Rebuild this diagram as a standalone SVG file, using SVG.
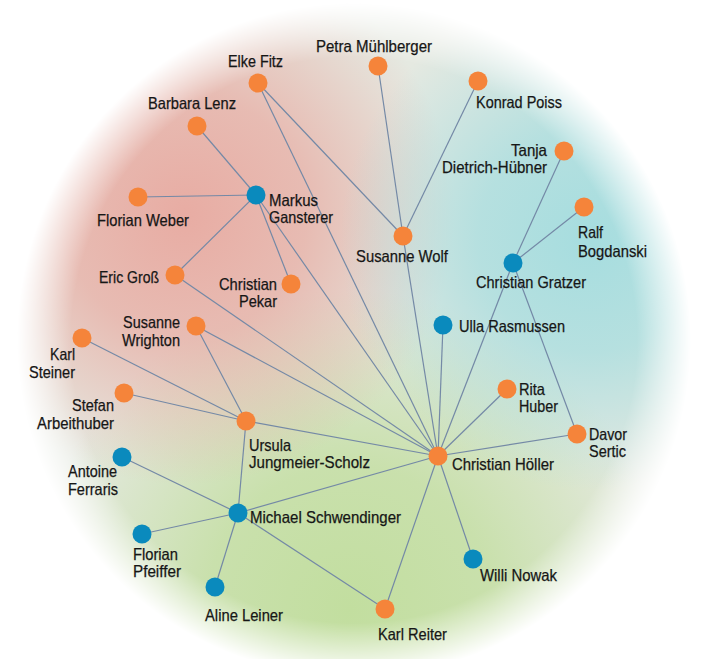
<svg xmlns="http://www.w3.org/2000/svg" width="706" height="659" viewBox="0 0 706 659">
<style>
.e{stroke:#7489a6;stroke-width:1.2;fill:none}
.o{fill:#f5843a}
.b{fill:#0a8abd}
text{font-family:"Liberation Sans",Arial,sans-serif;font-size:16.5px;fill:#161616;stroke:#161616;stroke-width:0.25}
</style>
<defs>
<radialGradient id="gRed" gradientUnits="userSpaceOnUse" cx="185" cy="215" r="270">
<stop offset="0" stop-color="#e8aca3" stop-opacity="1"/>
<stop offset="0.45" stop-color="#e8aca3" stop-opacity="0.75"/>
<stop offset="1" stop-color="#e8aca3" stop-opacity="0"/>
</radialGradient>
<radialGradient id="gTeal" gradientUnits="userSpaceOnUse" cx="590" cy="240" r="250">
<stop offset="0" stop-color="#a6dddf" stop-opacity="1"/>
<stop offset="0.45" stop-color="#a6dddf" stop-opacity="0.75"/>
<stop offset="1" stop-color="#a6dddf" stop-opacity="0"/>
</radialGradient>
<radialGradient id="gGreen" gradientUnits="userSpaceOnUse" cx="350" cy="610" r="320">
<stop offset="0" stop-color="#c2de9f" stop-opacity="1"/>
<stop offset="0.45" stop-color="#c2de9f" stop-opacity="0.8"/>
<stop offset="1" stop-color="#c2de9f" stop-opacity="0"/>
</radialGradient>
<radialGradient id="gFade" gradientUnits="userSpaceOnUse" cx="354" cy="340" r="337">
<stop offset="0.84" stop-color="#fff" stop-opacity="1"/>
<stop offset="1" stop-color="#fff" stop-opacity="0"/>
</radialGradient>
<mask id="m"><circle cx="354" cy="340" r="337" fill="url(#gFade)"/></mask>
</defs>
<rect width="706" height="659" fill="#ffffff"/>
<g id="background" mask="url(#m)">
<circle cx="354" cy="340" r="337" fill="#e5e9e1"/>
<circle cx="354" cy="340" r="337" fill="url(#gGreen)"/>
<circle cx="354" cy="340" r="337" fill="url(#gRed)"/>
<circle cx="354" cy="340" r="337" fill="url(#gTeal)"/>
</g>
<g id="connectors">
<line class="e" x1="197" y1="126" x2="256" y2="195"/>
<line class="e" x1="138" y1="197" x2="256" y2="195"/>
<line class="e" x1="175" y1="275" x2="256" y2="195"/>
<line class="e" x1="291" y1="284" x2="256" y2="195"/>
<line class="e" x1="256" y1="195" x2="438" y2="456"/>
<line class="e" x1="258" y1="83" x2="403" y2="236"/>
<line class="e" x1="258" y1="83" x2="438" y2="456"/>
<line class="e" x1="378" y1="66" x2="403" y2="236"/>
<line class="e" x1="478" y1="81" x2="403" y2="236"/>
<line class="e" x1="403" y1="236" x2="438" y2="456"/>
<line class="e" x1="564" y1="151" x2="513" y2="263"/>
<line class="e" x1="584" y1="207" x2="513" y2="263"/>
<line class="e" x1="513" y1="263" x2="438" y2="456"/>
<line class="e" x1="513" y1="263" x2="577" y2="434"/>
<line class="e" x1="443" y1="325" x2="438" y2="456"/>
<line class="e" x1="507" y1="389" x2="438" y2="456"/>
<line class="e" x1="577" y1="434" x2="438" y2="456"/>
<line class="e" x1="175" y1="275" x2="438" y2="456"/>
<line class="e" x1="196" y1="326" x2="438" y2="456"/>
<line class="e" x1="196" y1="326" x2="246" y2="421"/>
<line class="e" x1="82" y1="338" x2="246" y2="421"/>
<line class="e" x1="124" y1="393" x2="246" y2="421"/>
<line class="e" x1="246" y1="421" x2="438" y2="456"/>
<line class="e" x1="246" y1="421" x2="238" y2="513"/>
<line class="e" x1="122" y1="457" x2="238" y2="513"/>
<line class="e" x1="142" y1="534" x2="238" y2="513"/>
<line class="e" x1="215" y1="587" x2="238" y2="513"/>
<line class="e" x1="238" y1="513" x2="385" y2="609"/>
<line class="e" x1="238" y1="513" x2="438" y2="456"/>
<line class="e" x1="438" y1="456" x2="385" y2="609"/>
<line class="e" x1="438" y1="456" x2="473" y2="559"/>
</g>
<g id="elke"><circle class="o" cx="258" cy="83" r="9.5"/><text x="228" y="67" textLength="55" lengthAdjust="spacingAndGlyphs">Elke Fitz</text></g>
<g id="petra"><circle class="o" cx="378" cy="66" r="9.5"/><text x="316" y="52" textLength="116" lengthAdjust="spacingAndGlyphs">Petra Mühlberger</text></g>
<g id="konrad"><circle class="o" cx="478" cy="81" r="9.5"/><text x="476" y="108" textLength="86" lengthAdjust="spacingAndGlyphs">Konrad Poiss</text></g>
<g id="barbara"><circle class="o" cx="197" cy="126" r="9.5"/><text x="148" y="109" textLength="88" lengthAdjust="spacingAndGlyphs">Barbara Lenz</text></g>
<g id="tanja"><circle class="o" cx="564" cy="151" r="9.5"/><text x="511" y="156" textLength="36" lengthAdjust="spacingAndGlyphs">Tanja</text><text x="442" y="173" textLength="105" lengthAdjust="spacingAndGlyphs">Dietrich-Hübner</text></g>
<g id="florian-weber"><circle class="o" cx="138" cy="197" r="9.5"/><text x="97" y="226" textLength="92" lengthAdjust="spacingAndGlyphs">Florian Weber</text></g>
<g id="markus"><circle class="b" cx="256" cy="195" r="9.5"/><text x="269" y="206" textLength="49" lengthAdjust="spacingAndGlyphs">Markus</text><text x="269" y="223" textLength="64" lengthAdjust="spacingAndGlyphs">Gansterer</text></g>
<g id="ralf"><circle class="o" cx="584" cy="207" r="9.5"/><text x="578" y="238" textLength="25" lengthAdjust="spacingAndGlyphs">Ralf</text><text x="578" y="257" textLength="69" lengthAdjust="spacingAndGlyphs">Bogdanski</text></g>
<g id="susanne-wolf"><circle class="o" cx="403" cy="236" r="9.5"/><text x="356" y="262" textLength="92" lengthAdjust="spacingAndGlyphs">Susanne Wolf</text></g>
<g id="gratzer"><circle class="b" cx="513" cy="263" r="9.5"/><text x="476" y="288" textLength="110" lengthAdjust="spacingAndGlyphs">Christian Gratzer</text></g>
<g id="eric"><circle class="o" cx="175" cy="275" r="9.5"/><text x="99" y="283" textLength="60" lengthAdjust="spacingAndGlyphs">Eric Groß</text></g>
<g id="pekar"><circle class="o" cx="291" cy="284" r="9.5"/><text x="219" y="290" textLength="58" lengthAdjust="spacingAndGlyphs">Christian</text><text x="239" y="307" textLength="38" lengthAdjust="spacingAndGlyphs">Pekar</text></g>
<g id="wrighton"><circle class="o" cx="196" cy="326" r="9.5"/><text x="123" y="328" textLength="57" lengthAdjust="spacingAndGlyphs">Susanne</text><text x="122" y="346" textLength="58" lengthAdjust="spacingAndGlyphs">Wrighton</text></g>
<g id="ulla"><circle class="b" cx="443" cy="325" r="9.5"/><text x="459" y="332" textLength="106" lengthAdjust="spacingAndGlyphs">Ulla Rasmussen</text></g>
<g id="karl-steiner"><circle class="o" cx="82" cy="338" r="9.5"/><text x="50" y="360" textLength="25" lengthAdjust="spacingAndGlyphs">Karl</text><text x="29" y="378" textLength="46" lengthAdjust="spacingAndGlyphs">Steiner</text></g>
<g id="stefan"><circle class="o" cx="124" cy="393" r="9.5"/><text x="72" y="411" textLength="42" lengthAdjust="spacingAndGlyphs">Stefan</text><text x="37" y="429" textLength="77" lengthAdjust="spacingAndGlyphs">Arbeithuber</text></g>
<g id="rita"><circle class="o" cx="507" cy="389" r="9.5"/><text x="519" y="395" textLength="26" lengthAdjust="spacingAndGlyphs">Rita</text><text x="519" y="412" textLength="39" lengthAdjust="spacingAndGlyphs">Huber</text></g>
<g id="ursula"><circle class="o" cx="246" cy="421" r="9.5"/><text x="249" y="451" textLength="42" lengthAdjust="spacingAndGlyphs">Ursula</text><text x="249" y="468" textLength="121" lengthAdjust="spacingAndGlyphs">Jungmeier-Scholz</text></g>
<g id="davor"><circle class="o" cx="577" cy="434" r="9.5"/><text x="589" y="440" textLength="38" lengthAdjust="spacingAndGlyphs">Davor</text><text x="589" y="457" textLength="37" lengthAdjust="spacingAndGlyphs">Sertic</text></g>
<g id="hoeller"><circle class="o" cx="438" cy="456" r="9.5"/><text x="452" y="470" textLength="102" lengthAdjust="spacingAndGlyphs">Christian Höller</text></g>
<g id="antoine"><circle class="b" cx="122" cy="457" r="9.5"/><text x="68" y="477" textLength="49" lengthAdjust="spacingAndGlyphs">Antoine</text><text x="68" y="495" textLength="50" lengthAdjust="spacingAndGlyphs">Ferraris</text></g>
<g id="michael"><circle class="b" cx="238" cy="513" r="9.5"/><text x="250" y="523" textLength="151" lengthAdjust="spacingAndGlyphs">Michael Schwendinger</text></g>
<g id="florian-pfeiffer"><circle class="b" cx="142" cy="534" r="9.5"/><text x="133" y="560" textLength="45" lengthAdjust="spacingAndGlyphs">Florian</text><text x="133" y="577" textLength="48" lengthAdjust="spacingAndGlyphs">Pfeiffer</text></g>
<g id="willi"><circle class="b" cx="473" cy="559" r="9.5"/><text x="480" y="581" textLength="77" lengthAdjust="spacingAndGlyphs">Willi Nowak</text></g>
<g id="aline"><circle class="b" cx="215" cy="587" r="9.5"/><text x="205" y="621" textLength="78" lengthAdjust="spacingAndGlyphs">Aline Leiner</text></g>
<g id="karl-reiter"><circle class="o" cx="385" cy="609" r="9.5"/><text x="378" y="640" textLength="69" lengthAdjust="spacingAndGlyphs">Karl Reiter</text></g>
</svg>
